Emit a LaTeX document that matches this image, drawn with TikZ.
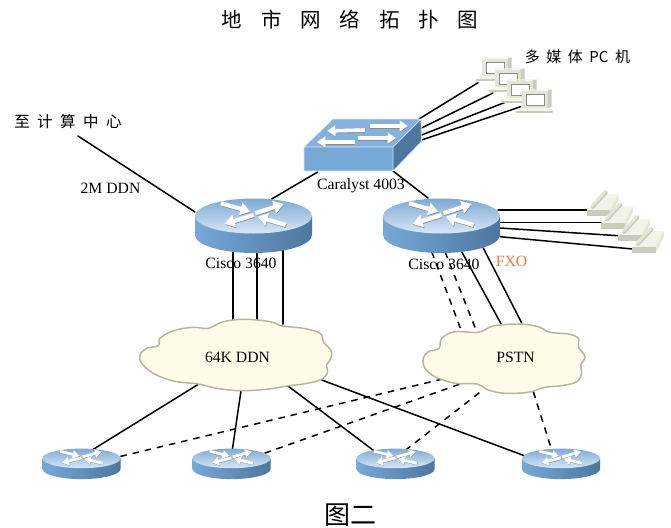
\documentclass[tikz,border=0pt]{standalone}
\usepackage{fontspec}
\setmainfont{Liberation Serif}
\newfontfamily\cjk{Noto Sans CJK SC}
\usetikzlibrary{calc,arrows.meta}
\definecolor{routerlight}{HTML}{78A8D8}
\definecolor{routerdark}{HTML}{4C779F}
\definecolor{routertop}{HTML}{7FA9D3}
\definecolor{routerglow}{HTML}{D8E8F8}
\definecolor{cloudfill}{HTML}{FFFDEA}
\definecolor{cloudedge}{HTML}{B5B5A0}
\definecolor{beige}{HTML}{E4E6D6}
\definecolor{beigelight}{HTML}{F2F3EA}
\definecolor{beigedark}{HTML}{C9CBBD}
\definecolor{fxocolor}{HTML}{FF7043}
\tikzset{
  device/.style={inner sep=0pt, minimum size=0pt},
  link/.style={line width=1.5pt, line cap=round},
  trunklink/.style={link, line width=2pt},
  dashlink/.style={link, line cap=butt, dash pattern=on 6.5pt off 6pt},
  labeltext/.style={inner sep=0pt, font=\fontsize{15.7}{18}\selectfont},
  cloudline/.style={draw=cloudedge, fill=cloudfill, line width=1.5pt},
  arrowbody/.style={white, line width=4.2pt*#1, -{Triangle[width=12.5pt,length=10pt,scale=#1]}},
  arrowshade/.style={black!45, line width=4.2pt*#1, -{Triangle[width=12.5pt,length=10pt,scale=#1]}},
}
\newcommand{\conn}[5][link]{
\draw[#1] ($(#2)+(#3)$) -- ($(#4)+(#5)$);
}
\newcommand{\flowarrow}[3]{
\draw[arrowshade=#3] ($(#1)+(0.4,0.8)$) -- ($(#2)+(0.4,0.8)$);
\draw[arrowbody=#3]  (#1) -- (#2);
}
\newcommand{\spaced}[2]{\spaceskip=#1\relax #2}
\newcommand{\routericon}[3]{
\begin{scope}[shift={(#1)}, xscale=#2, yscale=#3]
\shade[left color=routerlight, right color=routerdark]
  (-58.5,-10) -- (-58.5,9) .. controls (-58.5,19) and (-32,27) .. (0,27)
  .. controls (32,27) and (58.5,19) .. (58.5,9) -- (58.5,-10) -- cycle;
\shade[top color=routertop, bottom color=routerglow] (0,-10) ellipse [x radius=58.5, y radius=17.5];
\flowarrow{-32.5,-22.7}{-3.2,-14.3}{#2}
\flowarrow{1.8,-12.7}{30.2,-22}{#2}
\flowarrow{0.2,-11}{-28.8,-2}{#2}
\flowarrow{32.2,-1}{4.2,-9.3}{#2}
\end{scope}
}
\newcommand{\pcicon}[1]{
\begin{scope}[shift={(#1)}]
\fill[beigelight] (-12,-10.8) -- (-9,-12.2) -- (17.7,-12.2) -- (13.3,-10.8) -- cycle;
\fill[beigedark] (13.3,-10.8) -- (17.7,-12.2) -- (17.7,5) -- (13.3,6.8) -- cycle;
\fill[beige] (-12,-10.8) rectangle (13.3,6.8);
\draw[fill=white, draw=black!45, line width=0.6pt] (-7.3,-7.2) rectangle (10,3.5);
\fill[beigelight] (-12.3,6.8) -- (13.3,6.8) -- (19.3,9) -- (-18,9) -- cycle;
\fill[beigedark] (-18,9) rectangle (19.3,11.5);
\end{scope}
}
\newcommand{\phoneicon}[1]{
\begin{scope}[shift={(#1)}]
\fill[beigelight] (-15.8,7) -- (2.5,-9) -- (15.8,-9) -- (7.5,7) -- cycle;
\fill[beige] (7.5,7) -- (15.8,-9) -- (15.8,-3) -- (7.5,13) -- cycle;
\fill[beigedark] (-15.8,7) rectangle (7.5,13);
\draw[beigedark, line width=4pt, line cap=round] (-9.8,3.8) -- (3.2,-10.5);
\draw[beige, line width=3pt, line cap=round] (-10.8,3) -- (2.5,-11.3);
\end{scope}
}

\begin{document}
\begin{tikzpicture}[x=1pt, y=-1pt]
\useasboundingbox (0,0) rectangle (671,527);
\node[device] at (362.5,145) (sw) {};
\node[device] at (253.5,226) (ra) {};
\node[device] at (441.5,226) (rb) {};
\node[device] at (81.5,464)  (r1) {};
\node[device] at (231.5,464) (r2) {};
\node[device] at (395.5,464) (r3) {};
\node[device] at (561,464)   (r4) {};
\node[device] at (494,69.5)  (pc1) {};
\node[device] at (507,80.5)  (pc2) {};
\node[device] at (519,91.5)  (pc3) {};
\node[device] at (534,101.5) (pc4) {};
\node[device] at (602.5,203) (tel1) {};
\node[device] at (617,215.5) (tel2) {};
\node[device] at (634,228)   (tel3) {};
\node[device] at (648,240)   (tel4) {};
\coordinate (center) at (78,136);
\node[device] at (237.5,357) (ddn) {};
\node[device] at (515.5,357) (pstn) {};
% uplinks
\conn{center}{0,0}{ra}{-58.5,-14}
\conn{sw}{-44.8,27}{ra}{18.2,-27}
\conn{sw}{30.5,26}{rb}{-13.5,-28}
\conn{sw}{56.5,-26}{pc1}{-16,13.2}
\conn{sw}{59,-17}{pc2}{-14,12.5}
\conn{sw}{59,-10}{pc3}{-12.3,10.2}
\conn{sw}{59,-5}{pc4}{-13.3,5.2}
\conn{rb}{56.5,-16}{tel1}{-15.5,7}
\conn{rb}{58.5,-3.3}{tel2}{-15.3,7.2}
\conn{rb}{58.5,2}{tel3}{-16,7.7}
\conn{rb}{58.5,10.7}{tel4}{-15.3,9}
% to the clouds
\conn[trunklink]{ra}{-20.2,24}{ddn}{-4.2,-35}
\conn[trunklink]{ra}{3.2,24}{ddn}{19.2,-35}
\conn[trunklink]{ra}{29.2,22}{ddn}{45.2,-33}
\conn[dashlink]{rb}{-9.8,25.7}{pstn}{-53.8,-25.3}
\conn[dashlink]{rb}{3.5,25.7}{pstn}{-38.8,-25.3}
\conn{rb}{20.2,25.7}{pstn}{-13.8,-32}
\conn{rb}{41.8,22}{pstn}{6.2,-34}
% branches
\conn{ddn}{-39.2,27.3}{r1}{11.8,-14.7}
\conn{ddn}{3.5,33.7}{r2}{0.8,-14}
\conn{ddn}{50.5,29}{r3}{-21.2,-13}
\conn{ddn}{84.2,23}{r4}{-36.7,-8.3}
\conn[dashlink]{pstn}{-72.8,22}{r1}{37.8,-7.3}
\conn[dashlink]{pstn}{-56.2,27.3}{r2}{32.8,-10.7}
\conn[dashlink]{pstn}{-36.2,35.7}{r3}{10.2,-14}
\conn[dashlink]{pstn}{17.8,34.7}{r4}{-9.3,-14}
% clouds
\draw[cloudline, shift={(ddn)}] plot[smooth cycle, tension=0.6] coordinates {
  (-97.5,-2) (-90.8,-8.7) (-79.2,-11.3) (-77.5,-18.7) (-64.2,-26.3) (-44.2,-29.7) (-29.2,-28.7)
  (-14.2,-35.3) (7.5,-37.7) (32.5,-35.3) (45.2,-31) (65.8,-28.7) (82.5,-23.7) (85.8,-15.3)
  (94.2,-5.3) (92.5,3) (89.2,8) (89.8,16.3) (82.5,23) (65.8,27) (49.2,29) (29.2,32.3)
  (2.5,33.7) (-20.8,31.3) (-39.2,27) (-64.2,24) (-84.2,16.3) (-95.8,6.3)};
\draw[cloudline, shift={(pstn)}] plot[smooth cycle, tension=0.6] coordinates {
  (-92.2,1.3) (-87.2,-5.3) (-76.5,-8.7) (-73.8,-18.7) (-60.5,-25.3) (-37.2,-24.7) (-22.2,-31)
  (2.8,-33) (22.8,-30.3) (34.5,-24.7) (52.8,-23) (62.8,-18.7) (62.8,-10.3) (69.5,-0.3)
  (65.2,8) (66.2,16.3) (61.2,24.7) (46.2,28.7) (29.5,30.3) (12.8,35.3) (-10.5,36.3)
  (-27.2,33) (-38.8,27) (-60.5,26.3) (-80.5,19.7) (-90.5,11.3)};
\node[labeltext] at (ddn) (ddntext) {64K DDN};
\node[labeltext] at (pstn) (pstntext) {PSTN};
% switch
\begin{scope}[shift={(sw)}]
\fill[routerlight!90!white] (-58.5,2) -- (-29.5,-26) -- (58.5,-26) -- (30.5,2) -- cycle;
\fill[routerdark] (30.5,2) -- (58.5,-26) -- (59,-3.5) -- (30.5,26) -- cycle;
\fill[routerlight] (-58.5,2) rectangle (30.5,26);
\draw[routerglow, line width=0.7pt] (-58.5,2) -- (-29.5,-26) -- (58.5,-26) -- (59,-3.5) -- (30.5,26) -- (-58.5,26) -- cycle (-58.5,2) -- (30.5,2) -- (58.5,-26) (30.5,2) -- (30.5,26);
\flowarrow{2.5,-15}{-35.5,-14}{0.85}
\flowarrow{7.5,-19}{45.5,-19}{0.85}
\flowarrow{-7.5,-3}{-45.5,-3}{0.85}
\flowarrow{-4.5,-7}{33.5,-7}{0.85}
\end{scope}
\routericon{ra}{1}{1}
\routericon{rb}{1}{1}
\routericon{r1}{0.667}{0.56}
\routericon{r2}{0.667}{0.56}
\routericon{r3}{0.667}{0.56}
\routericon{r4}{0.667}{0.56}
\pcicon{pc1}
\pcicon{pc2}
\pcicon{pc3}
\pcicon{pc4}
\phoneicon{tel1}
\phoneicon{tel2}
\phoneicon{tel3}
\phoneicon{tel4}
% texts
\node[device, font=\cjk\fontsize{20.5}{24}\selectfont] at (350,20) (title) {\spaced{18.8pt}{地 市 网 络 拓 扑 图}};
\node[device, font=\cjk\fontsize{15.5}{18}\selectfont] at (68,122) (dclabel) {\spaced{7.5pt}{至 计 算 中 心}};
\node[device, font=\cjk\fontsize{15}{18}\selectfont] at (577.5,57) (pclabel) {\spaced{6.5pt}{多 媒 体 PC 机}};
\node[device, font=\cjk\fontsize{26}{30}\selectfont] at (350.5,515) (caption) {图二};
\node[labeltext] at (110.5,188) (ddnlabel) {2M DDN};
\node[labeltext] at (361,186) (swlabel) {Caralyst 4003};
\node[labeltext] at (241,263) (ralabel) {Cisco 3640};
\node[labeltext] at (444,264) (rblabel) {Cisco 3640};
\node[labeltext, text=fxocolor] at (511.5,261) (fxolabel) {FXO};
\end{tikzpicture}
\end{document}
